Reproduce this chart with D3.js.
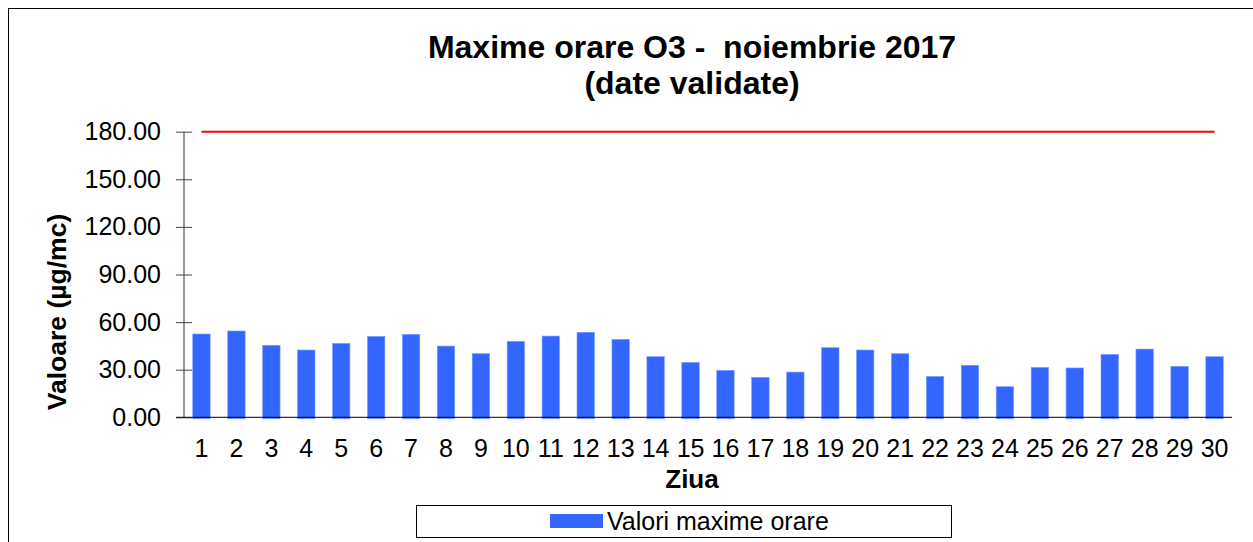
<!DOCTYPE html>
<html>
<head>
<meta charset="utf-8">
<script src="https://cdn.jsdelivr.net/npm/d3@7"></script>
<style>
body { margin:0; background:#fff; }
text { font-family: "Liberation Sans", Arial, sans-serif; fill:#000; }
</style>
</head>
<body>
<div id="chart"></div>
<script>
"use strict"

// data
var days = ["1","2","3","4","5","6","7","8","9","10","11","12","13","14","15",
	"16","17","18","19","20","21","22","23","24","25","26","27","28","29","30"];
var values = [52.5,54.4,45.4,42.4,46.6,51.0,52.3,44.9,40.1,47.9,51.2,53.6,49.1,38.2,34.6,
	29.6,25.2,28.5,43.9,42.4,40.1,25.8,32.8,19.3,31.5,31.1,39.7,43.0,32.1,38.2];
var limit = 180;
var yticks = [0,30,60,90,120,150,180];
var title = ["Maxime orare O3 -  noiembrie 2017","(date validate)"];

var width = 1253,
	height = 542;

var plot = {left:184, right:1232, top:131.7, bottom:417.3};

var svg = d3.select("#chart").append("svg")
	.attr("width",width)
	.attr("height",height);

// chart area border
svg.append("rect")
	.attr("x",8.5).attr("y",8.5)
	.attr("width",width+20).attr("height",height+20)
	.attr("fill","none")
	.attr("stroke","#000");

var x = d3.scaleBand()
	.domain(days)
	.range([plot.left,plot.right])
	.paddingInner(0.5)
	.paddingOuter(0.25);

var y = d3.scaleLinear()
	.domain([0,180])
	.range([plot.bottom,plot.top]);

// bars
svg.selectAll("rect.bar").data(values).enter().append("rect")
	.attr("class","bar")
	.attr("x",function(d,i) {return x(days[i])})
	.attr("y",function(d) {return y(d)})
	.attr("width",x.bandwidth())
	.attr("height",function(d) {return y(0)-y(d)+1.5})
	.attr("fill","#3366FF")
	.attr("stroke","#7f9fff")
	.attr("stroke-width",0.6);

// limit line
svg.append("line")
	.attr("x1",x(days[0])+x.bandwidth()/2)
	.attr("x2",x(days[days.length-1])+x.bandwidth()/2)
	.attr("y1",y(limit))
	.attr("y2",y(limit))
	.attr("stroke","#FF0000")
	.attr("stroke-width",2);

// y axis
var yaxis = svg.append("g")
	.attr("transform","translate(" + plot.left + ",0)")
	.call(d3.axisLeft(y).tickValues(yticks).tickSize(8).tickFormat(d3.format(".2f")));
yaxis.select(".domain").attr("stroke","#777").attr("stroke-width",1.5).attr("d","M0," + y(180) + "V" + y(0));
yaxis.selectAll(".tick line").attr("stroke","#444").attr("x1",8).attr("x2",-8);
yaxis.selectAll(".tick text")
	.attr("x",-23)
	.attr("font-size",25)
	.attr("font-family","Liberation Sans, Arial, sans-serif")
	.attr("fill","#000");

// x axis
var xaxis = svg.append("g")
	.attr("transform","translate(0," + plot.bottom + ")")
	.call(d3.axisBottom(x).tickSize(0));
xaxis.select(".domain").attr("stroke","#000").attr("d","M" + (plot.left-8) + ",0H" + plot.right);
xaxis.selectAll(".tick text")
	.attr("y",22)
	.attr("font-size",25)
	.attr("font-family","Liberation Sans, Arial, sans-serif")
	.attr("fill","#000");

// titles
svg.selectAll("text.title").data(title).enter().append("text")
	.attr("class","title")
	.attr("x",692)
	.attr("y",function(d,i) {return 58 + i*36})
	.attr("text-anchor","middle")
	.attr("font-size",32)
	.attr("font-weight","bold")
	.style("white-space","pre")
	.text(function(d) {return d});

svg.append("text")
	.attr("x",692)
	.attr("y",488)
	.attr("text-anchor","middle")
	.attr("font-size",26)
	.attr("font-weight","bold")
	.text("Ziua");

svg.append("text")
	.attr("transform","translate(66,312) rotate(-90)")
	.attr("text-anchor","middle")
	.attr("font-size",26.5)
	.attr("font-weight","bold")
	.text("Valoare (µg/mc)");

// legend
var legend = svg.append("g");
legend.append("rect")
	.attr("x",416.5).attr("y",505.5)
	.attr("width",535).attr("height",32)
	.attr("fill","#fff")
	.attr("stroke","#000");
legend.append("rect")
	.attr("x",550).attr("y",514)
	.attr("width",53).attr("height",14)
	.attr("fill","#3366FF");
legend.append("text")
	.attr("x",607)
	.attr("y",530)
	.attr("font-size",25)
	.text("Valori maxime orare");
</script>
</body>
</html>
